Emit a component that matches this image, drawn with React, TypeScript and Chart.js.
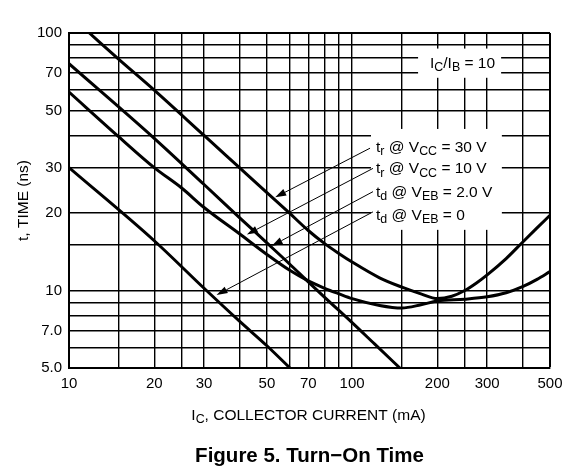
import React, { useEffect, useRef } from 'react';
import { Chart, registerables } from 'chart.js';

Chart.register(...registerables);

// ---- axes ----
const X_GRID = [10, 15, 20, 25, 30, 40, 50, 60, 70, 80, 90, 100, 150, 200, 250, 300, 400, 500];
const X_LABELS = [10, 20, 30, 50, 70, 100, 200, 300, 500];
const Y_GRID = [5, 6, 7, 8, 9, 10, 15, 20, 30, 40, 50, 60, 70, 80, 90, 100];
const Y_LABEL_VALUES = [5, 7, 10, 20, 30, 50, 70, 100];
const Y_LABEL_TEXT = ['5.0', '7.0', '10', '20', '30', '50', '70', '100'];

// ---- series: t_r @ VCC = 30 V ----
const TR30_X = [11.8, 15, 20, 30, 40, 50, 60, 70, 80, 90, 100, 125, 150, 175, 200, 225, 250, 275, 300, 350, 400, 450, 500];
const TR30_Y = [100, 79, 60, 40, 30, 24, 20, 17.1, 15.2, 13.9, 12.9, 11.2, 10.3, 9.7, 9.3, 9.5, 10.0, 10.7, 11.5, 13.3, 15.4, 17.5, 19.6];

// ---- series: t_r @ VCC = 10 V ----
const TR10_X = [10, 15, 20, 25, 30, 40, 50, 60, 70, 80, 90, 100, 125, 150, 175, 200, 250, 300, 350, 400, 450, 500];
const TR10_Y = [59, 39.5, 30, 25, 21, 16.6, 13.8, 12.0, 10.9, 10.2, 9.7, 9.3, 8.75, 8.55, 8.8, 9.1, 9.25, 9.45, 9.8, 10.35, 11.05, 11.85];

// ---- series: t_d @ VEB = 2.0 V ----
const TD2_X = [10, 20, 30, 40, 50, 60, 70, 80, 100, 120, 147.5];
const TD2_Y = [76, 39, 25.8, 19.2, 15.3, 12.7, 10.8, 9.4, 7.5, 6.2, 5];

// ---- series: t_d @ VEB = 0 ----
const TD0_X = [10, 20, 30, 40, 50, 60.3];
const TD0_Y = [30, 15.6, 10.2, 7.6, 6.1, 5];

// ---- annotations (data coordinates) ----
const RATIO_BOX = { x0: 171, x1: 336, y0: 87, y1: 67 };
const RATIO_TEXT = { x: 188.5, y: 73.1 };
const LEGEND_BOX = { x0: 116.6, x1: 338, y0: 42.4, y1: 17.2 };
const LEGEND_TEXT_X = 121.5;
const LEGEND_TEXT_Y = [34.6, 28.5, 23.1, 18.8];
const ARROW_FROM = [
  [115.7, 35.7],
  [118.5, 29.8],
  [118.5, 24.2],
  [118.5, 20.2],
];
const ARROW_TO = [
  [53.5, 23.0],
  [42.5, 16.5],
  [52, 14.9],
  [33.2, 9.6],
];

type Seg = { t: string; sub?: boolean };
const LEGEND_LINES: Seg[][] = [
  [{ t: 't' }, { t: 'r', sub: true }, { t: ' @ V' }, { t: 'CC', sub: true }, { t: ' = 30 V' }],
  [{ t: 't' }, { t: 'r', sub: true }, { t: ' @ V' }, { t: 'CC', sub: true }, { t: ' = 10 V' }],
  [{ t: 't' }, { t: 'd', sub: true }, { t: ' @ V' }, { t: 'EB', sub: true }, { t: ' = 2.0 V' }],
  [{ t: 't' }, { t: 'd', sub: true }, { t: ' @ V' }, { t: 'EB', sub: true }, { t: ' = 0' }],
];
const RATIO_LABEL: Seg[] = [{ t: 'I' }, { t: 'C', sub: true }, { t: '/I' }, { t: 'B', sub: true }, { t: ' = 10' }];
const X_TITLE: Seg[] = [{ t: 'I' }, { t: 'C', sub: true }, { t: ', COLLECTOR CURRENT (mA)' }];
const Y_TITLE = 't, TIME (ns)';
const CAPTION = 'Figure 5. Turn\u2212On Time';

const FONT = 'Arial, "Liberation Sans", Helvetica, sans-serif';

function zip(xs: number[], ys: number[]) {
  return xs.map((x, i) => ({ x, y: ys[i] }));
}

function drawRich(
  ctx: CanvasRenderingContext2D,
  segs: Seg[],
  x: number,
  y: number,
  size: number,
  align: 'left' | 'center',
  weight = 'normal'
) {
  const subSize = size * 0.8;
  const widths = segs.map((s) => {
    ctx.font = `${weight} ${s.sub ? subSize : size}px ${FONT}`;
    return ctx.measureText(s.t).width;
  });
  const total = widths.reduce((a, b) => a + b, 0);
  let cx = align === 'center' ? x - total / 2 : x;
  ctx.textAlign = 'left';
  ctx.textBaseline = 'alphabetic';
  ctx.fillStyle = '#000';
  segs.forEach((s, i) => {
    ctx.font = `${weight} ${s.sub ? subSize : size}px ${FONT}`;
    ctx.fillText(s.t, cx, s.sub ? y + size * 0.22 : y);
    cx += widths[i];
  });
}

function arrow(ctx: CanvasRenderingContext2D, x0: number, y0: number, x1: number, y1: number) {
  const ang = Math.atan2(y1 - y0, x1 - x0);
  const len = 11;
  const hw = 3.6;
  const bx = x1 - len * Math.cos(ang);
  const by = y1 - len * Math.sin(ang);
  ctx.strokeStyle = '#000';
  ctx.lineWidth = 1;
  ctx.beginPath();
  ctx.moveTo(x0, y0);
  ctx.lineTo(bx, by);
  ctx.stroke();
  ctx.fillStyle = '#000';
  ctx.beginPath();
  ctx.moveTo(x1, y1);
  ctx.lineTo(bx + hw * Math.sin(ang), by - hw * Math.cos(ang));
  ctx.lineTo(bx - hw * Math.sin(ang), by + hw * Math.cos(ang));
  ctx.closePath();
  ctx.fill();
}

const boxesPlugin = {
  id: 'whiteBoxes',
  beforeDatasetsDraw(chart: any) {
    const { ctx, scales } = chart;
    const xs = scales.x;
    const ys = scales.y;
    ctx.save();
    ctx.fillStyle = '#fff';
    [RATIO_BOX, LEGEND_BOX].forEach((b) => {
      const px0 = xs.getPixelForValue(b.x0);
      const px1 = xs.getPixelForValue(b.x1);
      const py0 = ys.getPixelForValue(b.y0);
      const py1 = ys.getPixelForValue(b.y1);
      ctx.fillRect(px0, py0, px1 - px0, py1 - py0);
    });
    ctx.restore();
  },
  afterDraw(chart: any) {
    const { ctx, scales, chartArea } = chart;
    const xs = scales.x;
    const ys = scales.y;
    ctx.save();
    drawRich(ctx, RATIO_LABEL, xs.getPixelForValue(RATIO_TEXT.x), ys.getPixelForValue(RATIO_TEXT.y), 15.5, 'left');
    LEGEND_LINES.forEach((segs, i) => {
      drawRich(ctx, segs, xs.getPixelForValue(LEGEND_TEXT_X), ys.getPixelForValue(LEGEND_TEXT_Y[i]), 15.5, 'left');
    });
    ARROW_FROM.forEach((f, i) => {
      const t = ARROW_TO[i];
      arrow(
        ctx,
        xs.getPixelForValue(f[0]),
        ys.getPixelForValue(f[1]),
        xs.getPixelForValue(t[0]),
        ys.getPixelForValue(t[1])
      );
    });
    const cxm = (chartArea.left + chartArea.right) / 2;
    drawRich(ctx, X_TITLE, cxm - 1, chartArea.bottom + 52, 15.5, 'center');
    drawRich(ctx, [{ t: CAPTION }], cxm, chartArea.bottom + 94, 20.5, 'center', 'bold');
    ctx.translate(chartArea.left - 41, (chartArea.top + chartArea.bottom) / 2);
    ctx.rotate(-Math.PI / 2);
    drawRich(ctx, [{ t: Y_TITLE }], 0, 0, 15.5, 'center');
    ctx.restore();
  },
};

function gridWidth(edge: number) {
  return (c: any) => (c.tick && c.tick.value === edge ? 2 : 1.4);
}

export default function App() {
  const ref = useRef<HTMLCanvasElement>(null);
  useEffect(() => {
    if (!ref.current) return;
    const tickFont = { family: FONT, size: 15 };
    const lineStyle = {
      borderColor: '#000',
      borderWidth: 3,
      pointRadius: 0,
      fill: false,
      cubicInterpolationMode: 'monotone' as const,
    };
    const chart = new Chart(ref.current, {
      type: 'line',
      data: {
        datasets: [
          { label: 't_r @ VCC = 30 V', data: zip(TR30_X, TR30_Y), ...lineStyle },
          { label: 't_r @ VCC = 10 V', data: zip(TR10_X, TR10_Y), ...lineStyle },
          { label: 't_d @ VEB = 2.0 V', data: zip(TD2_X, TD2_Y), ...lineStyle },
          { label: 't_d @ VEB = 0', data: zip(TD0_X, TD0_Y), ...lineStyle },
        ],
      },
      options: {
        animation: false,
        responsive: false,
        devicePixelRatio: 1,
        layout: { padding: { top: 33, right: 37, left: 0, bottom: 0 } },
        plugins: { legend: { display: false }, tooltip: { enabled: false }, title: { display: false } },
        scales: {
          x: {
            type: 'logarithmic',
            min: 10,
            max: 500,
            afterBuildTicks: (s: any) => {
              s.ticks = X_GRID.map((v) => ({ value: v }));
            },
            afterFit: (s: any) => {
              s.height = 106;
            },
            ticks: {
              autoSkip: false,
              maxRotation: 0,
              minRotation: 0,
              padding: 7,
              color: '#000',
              font: tickFont,
              callback: (v: any) => (X_LABELS.includes(Number(v)) ? String(v) : ''),
            },
            grid: { color: '#000', lineWidth: gridWidth(500), drawTicks: false },
            border: { display: true, color: '#000', width: 2 },
          },
          y: {
            type: 'logarithmic',
            min: 5,
            max: 100,
            afterBuildTicks: (s: any) => {
              s.ticks = Y_GRID.map((v) => ({ value: v }));
            },
            afterFit: (s: any) => {
              s.width = 69;
            },
            ticks: {
              autoSkip: false,
              padding: 7,
              color: '#000',
              font: tickFont,
              callback: (v: any) => {
                const i = Y_LABEL_VALUES.indexOf(Number(v));
                return i >= 0 ? Y_LABEL_TEXT[i] : '';
              },
            },
            grid: { color: '#000', lineWidth: gridWidth(100), drawTicks: false },
            border: { display: true, color: '#000', width: 2 },
          },
        },
      } as any,
      plugins: [boxesPlugin],
    });
    return () => chart.destroy();
  }, []);
  return (
    <div style={{ position: 'absolute', left: 0, top: 0, width: 587, height: 474, background: '#fff' }}>
      <canvas ref={ref} width={587} height={474} style={{ width: 587, height: 474 }} />
    </div>
  );
}
